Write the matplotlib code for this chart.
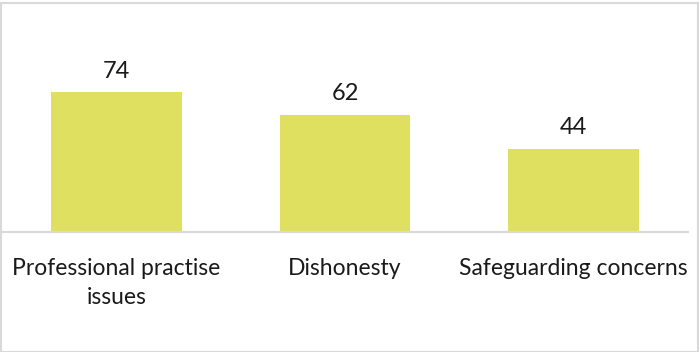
import matplotlib.pyplot as plt
from matplotlib.patches import Rectangle

categories = ["Professional practise\nissues", "Dishonesty", "Safeguarding concerns"]
values = [74, 62, 44]

plt.rcParams['font.family'] = ['Lato', 'DejaVu Sans']

W, H = 700, 352
fig = plt.figure(figsize=(W / 100, H / 100), dpi=100)
fig.patches.append(Rectangle((0.5 / W, 0.5 / H), 1 - 3 / W, 1 - 3 / H, transform=fig.transFigure,
                             fill=False, edgecolor='#d9d9d9', linewidth=1.5))

base_px = 232
unit_px = 1.89
top = 118
ax = fig.add_axes([2 / W, (H - base_px) / H, 686 / W, top * unit_px / H])

x = range(len(categories))
bars = ax.bar(x, values, width=0.57, color='#e0e060')
ax.set_xlim(-0.5, len(categories) - 0.5)
ax.set_ylim(0, top)

for b, v in zip(bars, values):
    ax.text(b.get_x() + b.get_width() / 2, v + 5.5, str(v), ha='center', va='bottom',
            fontsize=17, color='#1a1a1a')

ax.set_xticks(list(x))
ax.set_xticklabels(categories, fontsize=16.5, color='#1a1a1a', linespacing=1.42)
ax.tick_params(axis='x', length=0, pad=19)
ax.set_yticks([])
for s in ['top', 'right', 'left']:
    ax.spines[s].set_visible(False)
ax.spines['bottom'].set_color('#d9d9d9')
ax.spines['bottom'].set_linewidth(1.5)

fig.savefig('out.png', dpi=100)
